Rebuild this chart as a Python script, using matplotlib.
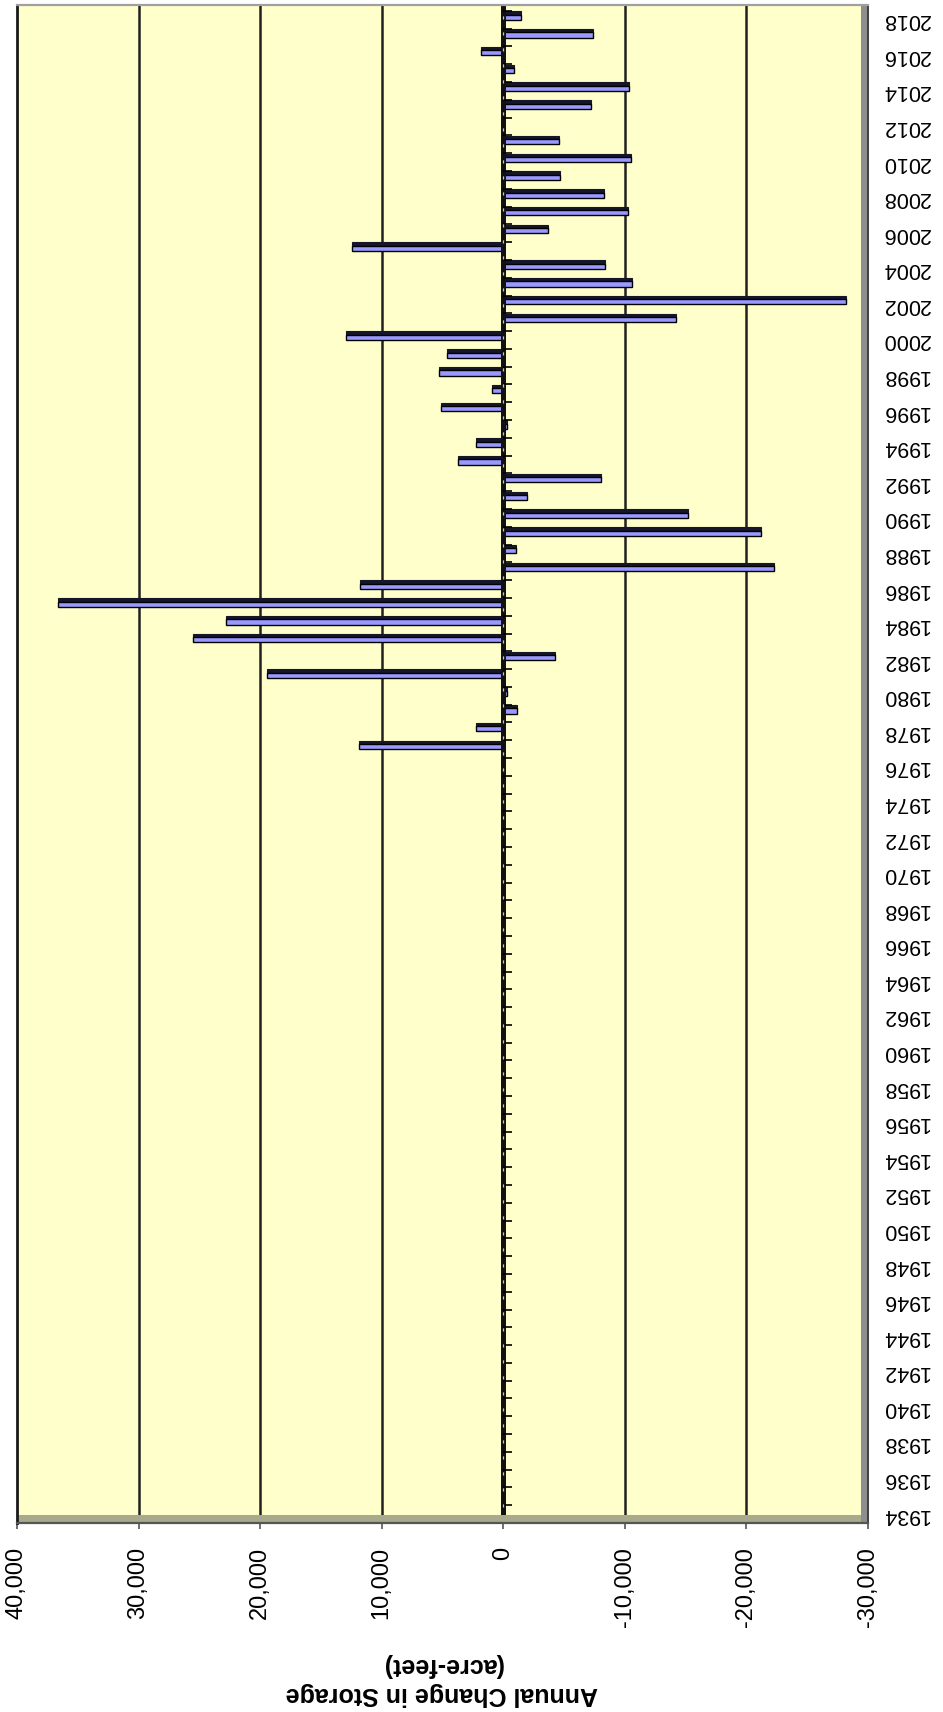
import numpy as np
import matplotlib
matplotlib.use('Agg')
import matplotlib.pyplot as plt
from matplotlib.patches import Rectangle
from matplotlib.ticker import FuncFormatter

plt.rcParams['font.family'] = ['Liberation Sans', 'DejaVu Sans']

# one bar per year, 1934..2018
years = list(range(1934, 2019))

# annual change in storage (acre-feet)
storage_change = [
    0, 0, 0, 0, 0, 0, 0, 0, 0, 0,                 # 1934-1943
    0, 0, 0, 0, 0, 0, 0, 0, 0, 0,                 # 1944-1953
    0, 0, 0, 0, 0, 0, 0, 0, 0, 0,                 # 1954-1963
    0, 0, 0, 0, 0, 0, 0, 0, 0, 0,                 # 1964-1973
    0, 0, 0,                                      # 1974-1976
    11850, 2250, -1150, -300, 19400,              # 1977-1981
    -4280, 25500, 22800, 36600, 11800,            # 1982-1986
    -22250, -1040, -21200, -15200, -1980,         # 1987-1991
    -8020, 3760, 2230, -300, 5100,                # 1992-1996
    960, 5270, 4600, 12920, -14240,               # 1997-2001
    -28150, -10560, -8400, 12470, -3700,          # 2002-2006
    -10230, -8290, -4630, -10530, -4610,          # 2007-2011
    0, -7240, -10370, -850, 1840,                 # 2012-2016
    -7350, -1460,                                 # 2017-2018
]

value_ticks = [40000, 30000, 20000, 10000, 0, -10000, -20000, -30000]
year_ticks = years[::2]

axis_title = 'Annual Change in Storage'
axis_units = '(acre-feet)'


def main():
    y = np.array(years)
    vals = np.array(storage_change)

    W, H = 943, 1712
    fig = plt.figure(figsize=(W / 100, H / 100), dpi=100)
    ax = fig.add_axes([17 / W, 1 - 1523 / H, (868 - 17) / W, (1523 - 5) / H])
    ax.set_facecolor('#FFFFCC')

    # chart is turned on its side: positive values run to the left
    ax.set_xlim(value_ticks[0], value_ticks[-1])
    ax.set_ylim(y[0] - 0.5, y[-1] + 0.83)

    for v in value_ticks[1:-1]:
        if v != 0:
            ax.axvline(v, color='#202020', lw=1.8, zorder=1)

    # 3d-ish bars: dark depth band above a periwinkle face
    ax.barh(y + 0.27, vals, height=0.21, align='edge',
            color='#16162a', edgecolor='#16162a', lw=0.8, zorder=3)
    ax.barh(y, vals, height=0.29, align='edge',
            color='#9999FF', edgecolor='black', lw=1.0, zorder=4)

    # category axis sitting on zero
    ax.axvline(0, color='#111111', lw=3.6, zorder=5)
    ax.axvline(0, color='#c8c8a8', lw=0.9, dashes=(2.5, 10.3), zorder=6)
    bounds = np.append(y - 0.5, y[-1] + 0.5)
    ax.hlines(bounds, 0, -750, color='black', lw=1.2, zorder=5)

    # floor and side wall
    ax.add_patch(Rectangle((0, 0), 1, 8 / 1518, transform=ax.transAxes,
                           facecolor='#a9a98c', edgecolor='none', zorder=7))
    ax.add_patch(Rectangle((1 - 7 / 851, 0), 7 / 851, 1, transform=ax.transAxes,
                           facecolor='#8e8e8e', edgecolor='none', zorder=7))

    ax.spines['left'].set_color('#1a1a1a')
    ax.spines['left'].set_linewidth(2.0)
    ax.spines['top'].set_color('#a0a0a0')
    ax.spines['top'].set_linewidth(1.6)
    ax.spines['right'].set_color('#404040')
    ax.spines['right'].set_linewidth(1.4)
    ax.spines['bottom'].set_color('#555555')
    ax.spines['bottom'].set_linewidth(1.6)
    for s in ax.spines.values():
        s.set_zorder(8)

    ax.set_xticks(value_ticks)
    ax.xaxis.set_major_formatter(FuncFormatter(lambda v, p: f'{int(v):,}'))
    ax.tick_params(axis='x', direction='out', length=4.5, width=1.2,
                   color='#555555', pad=13, labelsize=17, labelrotation=90)

    ax.yaxis.tick_right()
    ax.set_yticks(year_ticks)
    ax.set_yticklabels([str(t) for t in year_ticks], rotation=180, va='center')
    ax.tick_params(axis='y', length=0, pad=10, labelsize=15.5)

    fig.text(442 / W, 1 - 1665 / H, axis_units, rotation=180, ha='center',
             va='center', fontsize=18, fontweight='bold')
    fig.text(442 / W, 1 - 1694 / H, axis_title, rotation=180, ha='center',
             va='center', fontsize=18, fontweight='bold')

    fig.savefig('out.png', dpi=100)


if __name__ == '__main__':
    main()
